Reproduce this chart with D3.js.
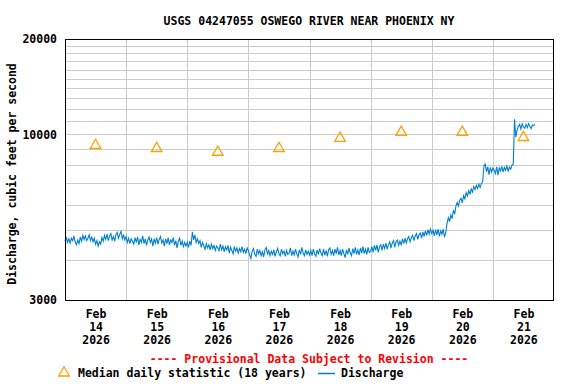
<!DOCTYPE html>
<html>
<head>
<meta charset="utf-8">
<script src="https://cdn.jsdelivr.net/npm/d3@7"></script>
<style>
  body { margin: 0; background: #fff; }
  text { font-family: "DejaVu Sans Mono", monospace; font-weight: bold; font-size: 11.5px; }
</style>
</head>
<body>
<div id="chart"></div>
<script>
// daily labels (noon) and median daily statistic
var days = ["14", "15", "16", "17", "18", "19", "20", "21"]
var medianValues = [9290, 9090, 8845, 9090, 9790, 10220, 10220, 9845]
var yTickValues = [3000, 10000, 20000]

// discharge, 30 minute readings starting Feb 14 00:00
var q14 = [4600,4720,4560,4680,4540,4700,4620,4760,4580,4480,4640,4520,4740,4600,4800,4660,4780,4620,4700,4820,4620,4740,4580,4700,
           4500,4620,4440,4580,4500,4720,4600,4800,4660,4840,4620,4780,4860,4640,4760,4600,4820,4900,4700,4840,4940,4680,4800,4640]
var q15 = [4760,4560,4700,4520,4680,4600,4500,4720,4560,4740,4480,4660,4560,4780,4520,4680,4460,4640,4740,4560,4680,4440,4660,4540,
           4720,4500,4660,4760,4540,4640,4440,4680,4520,4720,4480,4640,4560,4720,4460,4620,4380,4600,4700,4460,4600,4420,4560,4440]
var q16 = [4560,4400,4600,4460,4920,4640,4820,4560,4680,4520,4620,4400,4560,4440,4340,4520,4380,4480,4320,4500,4360,4460,4300,4440,
           4380,4300,4500,4320,4440,4260,4420,4320,4460,4220,4400,4300,4200,4420,4280,4380,4220,4360,4260,4420,4240,4340,4200,4380]
var q17 = [4300,4160,4060,4280,4360,4180,4120,4340,4200,4300,4140,4260,4100,4320,4400,4200,4300,4140,4280,4180,4320,4120,4260,4360,
           4200,4140,4340,4200,4280,4120,4300,4180,4220,4380,4140,4280,4160,4340,4200,4100,4320,4180,4400,4220,4140,4320,4180,4280]
var q18 = [4160,4300,4140,4340,4200,4120,4320,4180,4360,4220,4140,4340,4160,4300,4120,4320,4380,4180,4300,4140,4340,4200,4400,4160,
           4300,4140,4340,4200,4080,4320,4180,4380,4220,4140,4360,4200,4400,4180,4320,4160,4380,4220,4420,4200,4340,4180,4400,4240]
var q19 = [4280,4420,4240,4460,4300,4480,4240,4420,4480,4300,4500,4360,4540,4340,4480,4580,4380,4540,4620,4400,4580,4640,4460,4600,
           4480,4680,4520,4700,4540,4680,4760,4580,4720,4800,4620,4780,4860,4660,4820,4880,4700,4920,4760,4960,4800,5000,4840,5020]
var q20 = [4860,4980,4780,5000,4820,5020,4760,4960,4840,5020,4740,4900,5240,5460,5300,5560,5420,5760,5600,5940,6100,5940,6200,6280,
           6080,6400,6260,6540,6380,6640,6480,6720,6580,6840,6700,6900,6740,6960,6800,7000,7080,7950,8060,7620,7900,7460,7860,7600]
var q21 = [7820,7700,7520,7900,7440,7840,7660,7920,7600,7860,7700,7940,7660,7880,7760,7980,8050,11150,9800,10300,10600,10750,10400,10800,
           10550,10450,10750,10500,10800,10600,10420,10700,10650,10750]

var discharge = [].concat(q14, q15, q16, q17, q18, q19, q20, q21)
var start = Date.UTC(2026, 1, 14)
var series = discharge.map(function(v, i) { return {date: new Date(start + i * 30 * 60000), value: v} })

var width = 576, height = 384
var margin = {top: 39, right: 22, bottom: 84, left: 65}

var svg = d3.select("#chart").append("svg")
  .attr("width", width)
  .attr("height", height)

var x = d3.scaleUtc()
  .domain([new Date(start), new Date(Date.UTC(2026, 1, 22))])
  .range([margin.left, width - margin.right])

var y = d3.scaleLog()
  .domain([3000, 20000])
  .range([height - margin.bottom, margin.top])

// grid
var gridY = d3.range(4000, 20000, 1000)
svg.append("g").selectAll("line").data(gridY).enter().append("line")
  .attr("x1", margin.left).attr("x2", width - margin.right)
  .attr("y1", d => Math.round(y(d)) + 0.5).attr("y2", d => Math.round(y(d)) + 0.5)
  .attr("stroke", "#cccccc")

var gridX = d3.range(1, 8).map(d => new Date(start + d * 86400000))
svg.append("g").selectAll("line").data(gridX).enter().append("line")
  .attr("x1", d => Math.round(x(d)) + 0.5).attr("x2", d => Math.round(x(d)) + 0.5)
  .attr("y1", margin.top).attr("y2", height - margin.bottom)
  .attr("stroke", "#cccccc")

// discharge line
var drawLine = d3.line()
  .x(d => x(d.date))
  .y(d => y(d.value))

svg.append("path")
  .datum(series)
  .attr("fill", "none")
  .attr("stroke", "#0080d0")
  .attr("stroke-width", 1.1)
  .attr("d", drawLine)

// median triangles
var tri = "M0,-5.2L5.3,4L-5.3,4Z"
svg.append("g").selectAll("path").data(medianValues).enter().append("path")
  .attr("d", tri)
  .attr("transform", (d, i) => "translate(" + x(new Date(start + (i + 0.5) * 86400000)) + "," + y(d) + ")")
  .attr("fill", "none")
  .attr("stroke", "#ffa000")
  .attr("stroke-width", 1.3)

// frame
svg.append("rect")
  .attr("x", margin.left + 0.5).attr("y", margin.top + 0.5)
  .attr("width", width - margin.left - margin.right - 1)
  .attr("height", height - margin.top - margin.bottom)
  .attr("fill", "none")
  .attr("stroke", "black")

// y axis labels
var yAxis = svg.append("g")
  .attr("transform", "translate(" + margin.left + ",0)")
  .call(d3.axisLeft(y).tickValues(yTickValues).tickFormat(d3.format("d")).tickSize(0).tickPadding(8))
yAxis.select(".domain").remove()
yAxis.selectAll("text").style("font-size", null).style("font-family", null).attr("fill", "black")

// x axis labels: Feb / day / year
var xAxis = svg.append("g")
  .attr("transform", "translate(0," + (height - margin.bottom) + ")")
  .call(d3.axisBottom(x)
    .tickValues(days.map((d, i) => new Date(start + (i + 0.5) * 86400000)))
    .tickSize(0).tickFormat(""))
xAxis.select(".domain").remove()
xAxis.selectAll(".tick text").remove()
xAxis.selectAll(".tick").each(function(d, i) {
  var t = d3.select(this).append("text").attr("text-anchor", "middle").attr("fill", "black")
  t.append("tspan").attr("x", 0).attr("y", 18).text("Feb")
  t.append("tspan").attr("x", 0).attr("y", 31).text(days[i])
  t.append("tspan").attr("x", 0).attr("y", 44).text("2026")
})

// title and axis title
svg.append("text")
  .attr("x", 309).attr("y", 24.5)
  .attr("text-anchor", "middle")
  .text("USGS 04247055 OSWEGO RIVER NEAR PHOENIX NY")

svg.append("text")
  .attr("transform", "translate(15.5,174) rotate(-90)")
  .attr("text-anchor", "middle")
  .text("Discharge, cubic feet per second")

svg.append("text")
  .attr("x", 309).attr("y", 363)
  .attr("text-anchor", "middle")
  .attr("fill", "red")
  .text("---- Provisional Data Subject to Revision ----")

// legend
svg.append("path")
  .attr("d", tri)
  .attr("transform", "translate(64,372)")
  .attr("fill", "none")
  .attr("stroke", "#ffa000")
  .attr("stroke-width", 1.3)
svg.append("text").attr("x", 78).attr("y", 377).text("Median daily statistic (18 years)")
svg.append("line")
  .attr("x1", 318).attr("x2", 335).attr("y1", 373.5).attr("y2", 373.5)
  .attr("stroke", "#0080d0")
  .attr("stroke-width", 1.5)
svg.append("text").attr("x", 341).attr("y", 377).text("Discharge")
</script>
</body>
</html>
